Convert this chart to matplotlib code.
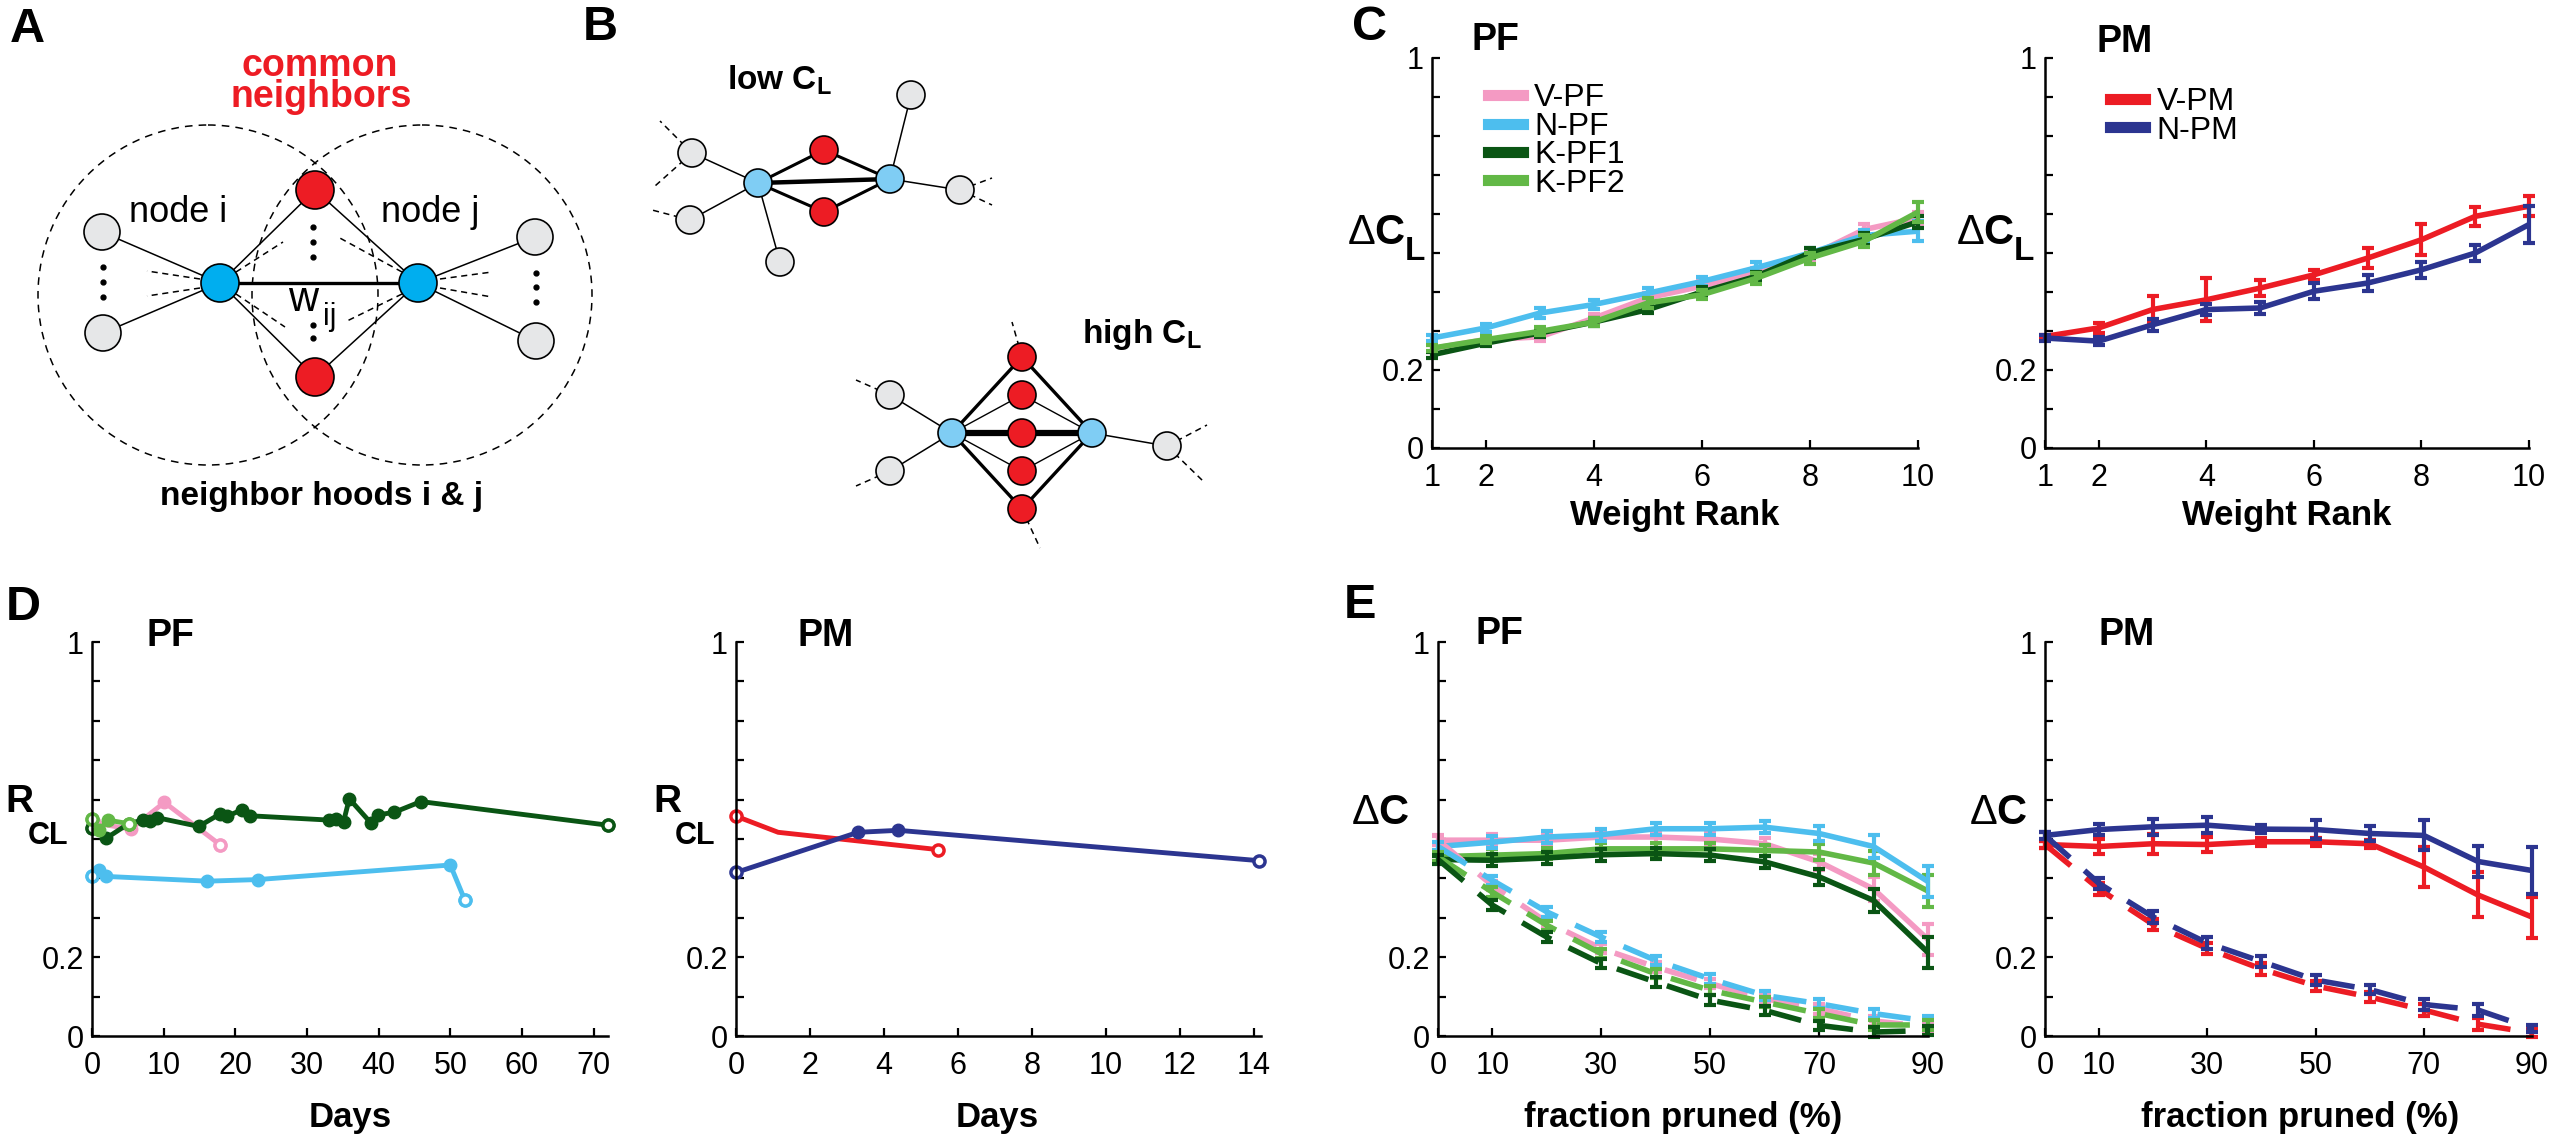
import numpy as np
import matplotlib
matplotlib.use('Agg')
import matplotlib.pyplot as plt
from matplotlib.patches import Circle
from matplotlib.lines import Line2D

plt.rcParams['font.family'] = ['Liberation Sans', 'DejaVu Sans']
plt.rcParams['mathtext.fontset'] = 'custom'
plt.rcParams['mathtext.rm'] = 'Liberation Sans'
plt.rcParams['mathtext.bf'] = 'Liberation Sans:bold'
plt.rcParams['mathtext.it'] = 'Liberation Sans:italic'

W, H = 2560, 1143

# colours
PINK = '#f49ac3'
SKY = '#4dbeee'
DKGREEN = '#0a5514'
LTGREEN = '#62b846'
RED = '#ec1c24'
NAVY = '#2c3590'

# ---- panel C : delta C_L vs weight rank
rank = [1, 2, 3, 4, 5, 6, 7, 8, 9, 10]
c_vpf = [0.255, 0.278, 0.285, 0.333, 0.385, 0.415, 0.450, 0.492, 0.560, 0.590]
c_npf = [0.282, 0.308, 0.346, 0.368, 0.397, 0.427, 0.462, 0.500, 0.545, 0.556]
c_kpf1 = [0.239, 0.269, 0.295, 0.323, 0.355, 0.400, 0.440, 0.500, 0.535, 0.580]
c_kpf2 = [0.256, 0.278, 0.299, 0.323, 0.372, 0.393, 0.435, 0.487, 0.530, 0.605]
c_vpf_err = [0.008, 0.008, 0.010, 0.010, 0.012, 0.012, 0.012, 0.012, 0.015, 0.015]
c_npf_err = [0.008, 0.010, 0.012, 0.012, 0.012, 0.012, 0.014, 0.014, 0.015, 0.025]
c_kpf1_err = [0.008, 0.008, 0.010, 0.010, 0.010, 0.012, 0.012, 0.012, 0.015, 0.015]
c_kpf2_err = [0.008, 0.008, 0.010, 0.010, 0.012, 0.012, 0.014, 0.014, 0.015, 0.025]

c_vpm = [0.286, 0.308, 0.355, 0.380, 0.410, 0.444, 0.487, 0.534, 0.594, 0.620]
c_npm = [0.282, 0.274, 0.316, 0.355, 0.359, 0.402, 0.423, 0.457, 0.500, 0.573]
c_vpm_err = [0.005, 0.012, 0.035, 0.055, 0.020, 0.013, 0.025, 0.040, 0.025, 0.025]
c_npm_err = [0.008, 0.010, 0.015, 0.015, 0.015, 0.020, 0.020, 0.020, 0.020, 0.047]

# ---- panel D : R_CL vs days
d_kpf1_day = [0.0, 2.0, 5.1, 7.1, 8.1, 9.1, 14.9, 17.9, 18.9, 20.9, 22.0, 33.1,
              34.1, 35.1, 35.9, 38.9, 39.9, 42.2, 45.9, 72.0]
d_kpf1 = [0.527, 0.502, 0.539, 0.548, 0.546, 0.554, 0.532, 0.564, 0.558, 0.574,
          0.559, 0.548, 0.551, 0.544, 0.602, 0.541, 0.561, 0.568, 0.595, 0.535]
d_kpf2_day = [0.0, 1.0, 2.2, 5.1]
d_kpf2 = [0.551, 0.522, 0.548, 0.539]
d_vpf_day = [0.3, 5.4, 10.1, 17.9]
d_vpf = [0.541, 0.525, 0.593, 0.485]
d_npf_day = [0.0, 1.0, 2.0, 16.1, 23.1, 50.0, 52.0]
d_npf = [0.405, 0.422, 0.405, 0.393, 0.397, 0.434, 0.346]

d_vpm_day = [0.0, 1.14, 5.47]
d_vpm = [0.558, 0.517, 0.473]
d_npm_day = [0.0, 3.3, 4.39, 14.15]
d_npm = [0.415, 0.517, 0.522, 0.445]

# ---- panel E : delta C vs fraction pruned (solid: weakest first, dashed: strongest first)
pruned = [0, 10, 20, 30, 40, 50, 60, 70, 80, 90]
e_vpf = [0.497, 0.497, 0.497, 0.505, 0.505, 0.500, 0.488, 0.442, 0.373, 0.245]
e_npf = [0.481, 0.492, 0.505, 0.511, 0.526, 0.526, 0.530, 0.514, 0.481, 0.392]
e_kpf1 = [0.448, 0.446, 0.452, 0.460, 0.463, 0.459, 0.442, 0.404, 0.344, 0.212]
e_kpf2 = [0.455, 0.459, 0.463, 0.475, 0.475, 0.475, 0.471, 0.467, 0.439, 0.368]
e_vpf_d = [0.497, 0.382, 0.289, 0.222, 0.175, 0.133, 0.095, 0.069, 0.038, 0.024]
e_npf_d = [0.481, 0.395, 0.315, 0.251, 0.192, 0.145, 0.103, 0.082, 0.057, 0.038]
e_kpf1_d = [0.448, 0.332, 0.251, 0.184, 0.137, 0.091, 0.065, 0.027, 0.010, 0.014]
e_kpf2_d = [0.455, 0.365, 0.281, 0.209, 0.158, 0.116, 0.086, 0.057, 0.028, 0.028]
e_pf_err = [0.010, 0.015, 0.015, 0.015, 0.015, 0.015, 0.015, 0.020, 0.030, 0.040]

e_vpm = [0.486, 0.481, 0.488, 0.486, 0.493, 0.493, 0.488, 0.429, 0.358, 0.302]
e_npm = [0.509, 0.524, 0.531, 0.535, 0.525, 0.524, 0.514, 0.509, 0.443, 0.420]
e_vpm_d = [0.486, 0.373, 0.283, 0.222, 0.170, 0.127, 0.099, 0.066, 0.030, 0.008]
e_npm_d = [0.509, 0.387, 0.302, 0.236, 0.189, 0.142, 0.118, 0.080, 0.066, 0.019]
e_vpm_err = [0.008, 0.020, 0.025, 0.020, 0.010, 0.010, 0.010, 0.050, 0.057, 0.052]
e_npm_err = [0.008, 0.015, 0.020, 0.020, 0.010, 0.025, 0.020, 0.038, 0.040, 0.060]
e_pm_d_err = [0.008, 0.015, 0.015, 0.015, 0.015, 0.012, 0.012, 0.015, 0.015, 0.010]

fig = plt.figure(figsize=(W / 100, H / 100), dpi=100)

# overlay axes in pixel coordinates (y down) for diagrams and labels
ov = fig.add_axes([0, 0, 1, 1])
ov.set_xlim(0, W)
ov.set_ylim(H, 0)
ov.axis('off')


def txt(x, y, s, size, weight='normal', color='k', ha='center', va='center'):
    ov.text(x, y, s, fontsize=size, fontweight=weight, color=color, ha=ha, va=va)


def node(x, y, r, fc):
    ov.add_patch(Circle((x, y), r, fc=fc, ec='k', lw=1.2, zorder=5))


def edge(p, q, lw=1.1, ls='-'):
    ov.plot([p[0], q[0]], [p[1], q[1]], color='k', lw=lw, ls=ls,
            dashes=(4, 3) if ls == '--' else (None, None), zorder=3)


def dots(x, ys):
    ov.plot([x] * len(ys), ys, 'o', color='k', ms=3.5, zorder=6)


# ---------- panel A diagram
BLUE_A = '#00aeef'
RED_A = '#ed1c24'
GRAY = '#e6e7e8'
for cx in (208, 422):
    ov.add_patch(Circle((cx, 295), 170, fc='none', ec='k', lw=1.1, ls=(0, (5, 4)), zorder=2))
ni, nj = (220, 283), (418, 283)
rt, rb = (315, 190), (315, 377)
g1, g2, g3, g4 = (102, 232), (103, 333), (535, 237), (536, 341)
for g in (g1, g2):
    edge(ni, g)
for g in (g3, g4):
    edge(nj, g)
for r in (rt, rb):
    edge(ni, r)
    edge(nj, r)
edge(ni, nj, lw=2.4)
edge((200, 279), (147, 271), ls='--')
edge((200, 288), (147, 296), ls='--')
edge((440, 279), (492, 272), ls='--')
edge((440, 288), (492, 297), ls='--')
edge((236, 272), (283, 242), ls='--')
edge((236, 294), (285, 327), ls='--')
edge((402, 272), (338, 237), ls='--')
edge((402, 294), (345, 322), ls='--')
for p in (ni, nj):
    node(p[0], p[1], 19, BLUE_A)
for p in (rt, rb):
    node(p[0], p[1], 19, RED_A)
for p in (g1, g2, g3, g4):
    node(p[0], p[1], 18, GRAY)
dots(103, [267, 282, 297])
dots(536, [273, 287, 302])
dots(313, [227, 242, 257])
dots(313, [325, 338])
txt(178, 213, 'node i', 26)
txt(430, 213, 'node j', 26)
txt(303, 300, 'w', 30)
txt(330, 317, 'ij', 22)
txt(320, 66, 'common', 27, 'bold', RED_A)
txt(321, 97, 'neighbors', 27, 'bold', RED_A)
txt(322, 497, 'neighbor hoods i & j', 24, 'bold')

# ---------- panel B diagrams
BLUE_B = '#7fcdf4'
bl, br = (758, 183), (890, 179)
lrt, lrb = (824, 150), (824, 212)
lg1, lg2, lgb, lgt, lgr = (692, 153), (690, 220), (780, 262), (911, 95), (960, 190)
for g in (lg1, lg2, lgb):
    edge(bl, g)
for g in (lgt, lgr):
    edge(br, g)
edge(bl, br, lw=3.2)
for r in (lrt, lrb):
    edge(bl, r, lw=2.2)
    edge(br, r, lw=2.2)
edge(lg1, (660, 121), ls='--')
edge(lg1, (655, 186), ls='--')
edge(lg2, (652, 210), ls='--')
edge(lgr, (992, 178), ls='--')
edge(lgr, (992, 205), ls='--')
for p in (bl, br):
    node(p[0], p[1], 14, BLUE_B)
for p in (lrt, lrb):
    node(p[0], p[1], 14, RED_A)
for p in (lg1, lg2, lgb, lgt, lgr):
    node(p[0], p[1], 14, GRAY)
txt(727, 80, r'low C$_\mathbf{L}$', 24, 'bold', ha='left')

hbl, hbr = (952, 433), (1092, 433)
h_reds = [(1022, 357), (1022, 395), (1022, 433), (1022, 471), (1022, 509)]
hg1, hg2, hgr = (890, 395), (890, 471), (1167, 446)
edge(hbl, hg1)
edge(hbl, hg2)
edge(hbr, hgr)
edge(hbl, hbr, lw=4.5)
for i, r in enumerate(h_reds):
    w = 2.4 if i in (0, len(h_reds) - 1) else 1.0
    edge(hbl, r, lw=w)
    edge(hbr, r, lw=w)
edge(hg1, (856, 380), ls='--')
edge(hg2, (856, 486), ls='--')
edge(hgr, (1207, 425), ls='--')
edge(hgr, (1203, 481), ls='--')
edge(h_reds[0], (1012, 322), ls='--')
edge(h_reds[-1], (1040, 548), ls='--')
for p in (hbl, hbr):
    node(p[0], p[1], 14, BLUE_B)
for p in h_reds:
    node(p[0], p[1], 14, RED_A)
for p in (hg1, hg2, hgr):
    node(p[0], p[1], 14, GRAY)
txt(1082, 335, r'high C$_\mathbf{L}$', 24, 'bold', ha='left')


# ---------- plot axes
def make_ax(x0, x1, ytop, ybot, xlim, xticks):
    ax = fig.add_axes([x0 / W, 1 - ybot / H, (x1 - x0) / W, (ybot - ytop) / H])
    ax.patch.set_alpha(0)
    for s in ('top', 'right'):
        ax.spines[s].set_visible(False)
    for s in ('left', 'bottom'):
        ax.spines[s].set_linewidth(1.8)
    ax.set_xlim(*xlim)
    ax.set_ylim(0, 1)
    yt = np.round(np.arange(0, 1.01, 0.1), 1)
    ax.set_yticks(yt)
    ax.set_yticklabels(['0' if v == 0 else '0.2' if v == 0.2 else '1' if v == 1 else '' for v in yt])
    ax.set_xticks(xticks)
    ax.tick_params(direction='in', length=6, width=1.6, labelsize=22)
    ax.tick_params(axis='x', pad=11)
    ax.tick_params(axis='y', pad=6)
    return ax


def eb(ax, x, y, e, c, dashed=False, lw=4):
    ls = (0, (6, 3.5)) if dashed else '-'
    ax.plot(x, y, color=c, lw=lw, ls=ls, clip_on=False, solid_capstyle='butt')
    cont = ax.errorbar(x, y, yerr=e, fmt='none', ecolor=c, elinewidth=3,
                       capsize=4, capthick=3)
    for art in cont.lines[1] + cont.lines[2]:
        art.set_clip_on(False)


ROW1 = (58, 448)
ROW2 = (642, 1036)

# C
axc1 = make_ax(1432, 1918, *ROW1, (1, 10), [1, 2, 4, 6, 8, 10])
eb(axc1, rank, c_vpf, c_vpf_err, PINK)
eb(axc1, rank, c_npf, c_npf_err, SKY)
eb(axc1, rank, c_kpf1, c_kpf1_err, DKGREEN)
eb(axc1, rank, c_kpf2, c_kpf2_err, LTGREEN)
hs = [Line2D([], [], color=c, lw=8) for c in (PINK, SKY, DKGREEN, LTGREEN)]
axc1.legend(hs, ['V-PF', 'N-PF', 'K-PF1', 'K-PF2'], loc='upper left',
            bbox_to_anchor=(0.115, 0.935), frameon=False, fontsize=23,
            handlelength=1.1, handletextpad=0.35, labelspacing=-0.05,
            borderaxespad=0, borderpad=0)

axc2 = make_ax(2045, 2529, *ROW1, (1, 10), [1, 2, 4, 6, 8, 10])
eb(axc2, rank, c_vpm, c_vpm_err, RED)
eb(axc2, rank, c_npm, c_npm_err, NAVY)
hs = [Line2D([], [], color=c, lw=8) for c in (RED, NAVY)]
axc2.legend(hs, ['V-PM', 'N-PM'], loc='upper left',
            bbox_to_anchor=(0.135, 0.925), frameon=False, fontsize=23,
            handlelength=1.1, handletextpad=0.35, labelspacing=-0.05,
            borderaxespad=0, borderpad=0)

# D
axd1 = make_ax(92, 608, *ROW2, (0, 72), [0, 10, 20, 30, 40, 50, 60, 70])
for dx, dy, c in ((d_npf_day, d_npf, SKY), (d_vpf_day, d_vpf, PINK),
                  (d_kpf1_day, d_kpf1, DKGREEN), (d_kpf2_day, d_kpf2, LTGREEN)):
    axd1.plot(dx, dy, '-o', color=c, lw=3.5, ms=9, clip_on=False)
    axd1.plot([dx[0], dx[-1]], [dy[0], dy[-1]], 'o', mfc='white', mec=c,
              mew=2.5, ms=8, clip_on=False)

axd2 = make_ax(736, 1261, *ROW2, (0, 14.2), [0, 2, 4, 6, 8, 10, 12, 14])
axd2.plot(d_vpm_day, d_vpm, '-', color=RED, lw=3.5, clip_on=False)
axd2.plot(d_npm_day, d_npm, '-', color=NAVY, lw=3.5, clip_on=False)
axd2.plot(d_npm_day[1:-1], d_npm[1:-1], 'o', color=NAVY, ms=9)
for dx, dy, c in ((d_vpm_day, d_vpm, RED), (d_npm_day, d_npm, NAVY)):
    axd2.plot([dx[0], dx[-1]], [dy[0], dy[-1]], 'o', mfc='white', mec=c,
              mew=2.5, ms=8, clip_on=False)

# E
axe1 = make_ax(1438, 1928, *ROW2, (0, 90), [0, 10, 30, 50, 70, 90])
for y, c in ((e_vpf, PINK), (e_kpf2, LTGREEN), (e_kpf1, DKGREEN), (e_npf, SKY)):
    eb(axe1, pruned, y, e_pf_err, c)
for y, c in ((e_vpf_d, PINK), (e_npf_d, SKY), (e_kpf2_d, LTGREEN), (e_kpf1_d, DKGREEN)):
    eb(axe1, pruned, y, [0.012] * len(pruned), c, dashed=True)

axe2 = make_ax(2045, 2532, *ROW2, (0, 90), [0, 10, 30, 50, 70, 90])
eb(axe2, pruned, e_vpm, e_vpm_err, RED)
eb(axe2, pruned, e_npm, e_npm_err, NAVY)
eb(axe2, pruned, e_vpm_d, e_pm_d_err, RED, dashed=True)
eb(axe2, pruned, e_npm_d, e_pm_d_err, NAVY, dashed=True)

# ---------- labels
for s, x, y in (('A', 27, 30), ('B', 600, 27), ('C', 1370, 28), ('D', 23, 607), ('E', 1360, 605)):
    txt(x, y, s, 35, 'bold')
for s, x, y in (('PF', 1495, 40), ('PM', 2125, 42), ('PF', 170, 636), ('PM', 826, 636),
                ('PF', 1499, 634), ('PM', 2127, 635)):
    txt(x, y, s, 27, 'bold')

for xr in (1406, 2015):
    txt(xr, 233, r'$\Delta\mathbf{C}$', 30, ha='right')
    txt(xr - 1, 252, 'L', 24, 'bold', ha='left')
for xr in (34, 681):
    txt(xr, 802, 'R', 28, 'bold', ha='right')
    txt(xr - 6, 836, 'CL', 22, 'bold', ha='left')
for xc in (1380, 1998):
    txt(xc, 813, r'$\Delta\mathbf{C}$', 30)

txt(1675, 516, 'Weight Rank', 25, 'bold')
txt(2287, 516, 'Weight Rank', 25, 'bold')
txt(350, 1118, 'Days', 25, 'bold')
txt(997, 1118, 'Days', 25, 'bold')
txt(1683, 1118, 'fraction pruned (%)', 25, 'bold')
txt(2300, 1118, 'fraction pruned (%)', 25, 'bold')

fig.savefig('out.png', dpi=100)
